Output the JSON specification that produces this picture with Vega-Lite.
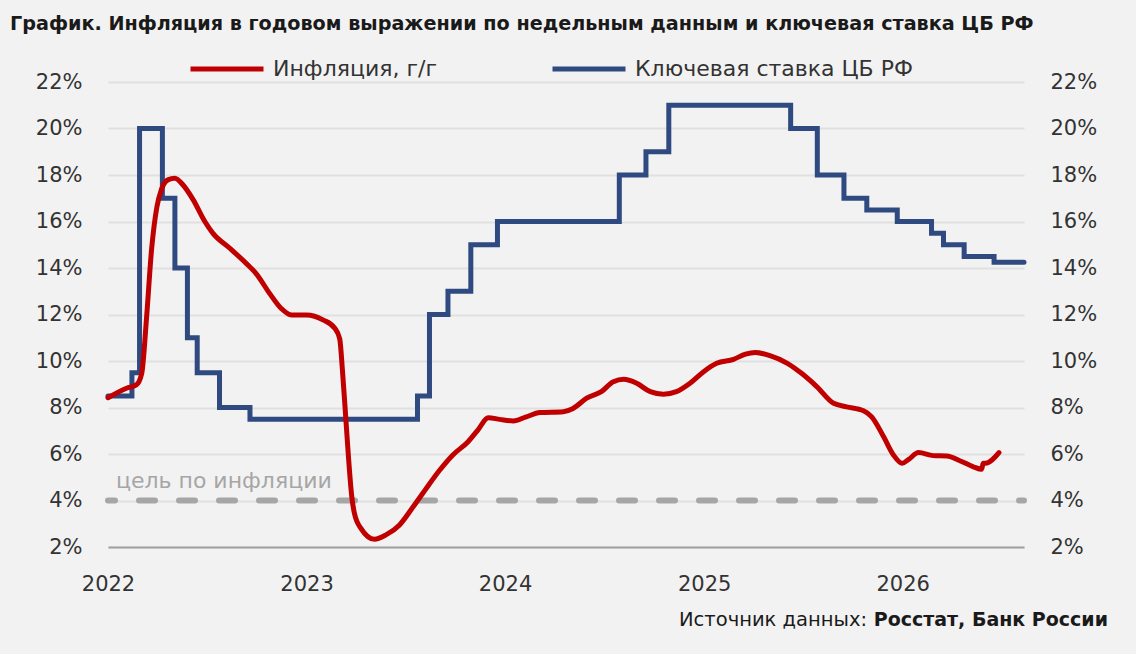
{
  "$schema": "https://vega.github.io/schema/vega-lite/v6.json",
  "background": "#f2f2f2",
  "autosize": "none",
  "width": 916,
  "height": 465,
  "padding": {"left": 108, "top": 82, "right": 112, "bottom": 107},
  "title": {
    "text": "График. Инфляция в годовом выражении по недельным данным и ключевая ставка ЦБ РФ",
    "anchor": "start",
    "frame": "group",
    "dx": -98,
    "fontSize": 19.2,
    "fontWeight": "bold",
    "color": "#1a1a1a",
    "offset": -4
  },
  "config": {
    "font": "DejaVu Sans",
    "view": {"stroke": null},
    "legend": {"padding": 0}
  },
  "datasets": {
    "rate": [
      {"date": "2022-01-01", "value": 8.5, "series": "Ключевая ставка ЦБ РФ"},
      {"date": "2022-02-14", "value": 9.5, "series": "Ключевая ставка ЦБ РФ"},
      {"date": "2022-02-28", "value": 20, "series": "Ключевая ставка ЦБ РФ"},
      {"date": "2022-04-11", "value": 17, "series": "Ключевая ставка ЦБ РФ"},
      {"date": "2022-05-04", "value": 14, "series": "Ключевая ставка ЦБ РФ"},
      {"date": "2022-05-27", "value": 11, "series": "Ключевая ставка ЦБ РФ"},
      {"date": "2022-06-14", "value": 9.5, "series": "Ключевая ставка ЦБ РФ"},
      {"date": "2022-07-25", "value": 8, "series": "Ключевая ставка ЦБ РФ"},
      {"date": "2022-09-19", "value": 7.5, "series": "Ключевая ставка ЦБ РФ"},
      {"date": "2023-07-24", "value": 8.5, "series": "Ключевая ставка ЦБ РФ"},
      {"date": "2023-08-15", "value": 12, "series": "Ключевая ставка ЦБ РФ"},
      {"date": "2023-09-18", "value": 13, "series": "Ключевая ставка ЦБ РФ"},
      {"date": "2023-10-30", "value": 15, "series": "Ключевая ставка ЦБ РФ"},
      {"date": "2023-12-18", "value": 16, "series": "Ключевая ставка ЦБ РФ"},
      {"date": "2024-07-29", "value": 18, "series": "Ключевая ставка ЦБ РФ"},
      {"date": "2024-09-16", "value": 19, "series": "Ключевая ставка ЦБ РФ"},
      {"date": "2024-10-28", "value": 21, "series": "Ключевая ставка ЦБ РФ"},
      {"date": "2025-06-09", "value": 20, "series": "Ключевая ставка ЦБ РФ"},
      {"date": "2025-07-28", "value": 18, "series": "Ключевая ставка ЦБ РФ"},
      {"date": "2025-09-15", "value": 17, "series": "Ключевая ставка ЦБ РФ"},
      {"date": "2025-10-27", "value": 16.5, "series": "Ключевая ставка ЦБ РФ"},
      {"date": "2025-12-22", "value": 16, "series": "Ключевая ставка ЦБ РФ"},
      {"date": "2026-02-23", "value": 15.5, "series": "Ключевая ставка ЦБ РФ"},
      {"date": "2026-03-17", "value": 15, "series": "Ключевая ставка ЦБ РФ"},
      {"date": "2026-04-24", "value": 14.5, "series": "Ключевая ставка ЦБ РФ"},
      {"date": "2026-06-18", "value": 14.25, "series": "Ключевая ставка ЦБ РФ"},
      {"date": "2026-08-12", "value": 14.25, "series": "Ключевая ставка ЦБ РФ"}
    ],
    "infl": [
      {"date": "2022-01-01", "value": 8.42, "series": "Инфляция, г/г"},
      {"date": "2022-02-04", "value": 8.83, "series": "Инфляция, г/г"},
      {"date": "2022-02-22", "value": 8.97, "series": "Инфляция, г/г"},
      {"date": "2022-03-04", "value": 9.47, "series": "Инфляция, г/г"},
      {"date": "2022-03-13", "value": 11.9, "series": "Инфляция, г/г"},
      {"date": "2022-03-22", "value": 14.77, "series": "Инфляция, г/г"},
      {"date": "2022-04-01", "value": 16.64, "series": "Инфляция, г/г"},
      {"date": "2022-04-09", "value": 17.36, "series": "Инфляция, г/г"},
      {"date": "2022-04-21", "value": 17.79, "series": "Инфляция, г/г"},
      {"date": "2022-05-04", "value": 17.86, "series": "Инфляция, г/г"},
      {"date": "2022-05-19", "value": 17.57, "series": "Инфляция, г/г"},
      {"date": "2022-06-07", "value": 16.92, "series": "Инфляция, г/г"},
      {"date": "2022-06-28", "value": 16.0, "series": "Инфляция, г/г"},
      {"date": "2022-07-13", "value": 15.49, "series": "Инфляция, г/г"},
      {"date": "2022-08-13", "value": 14.85, "series": "Инфляция, г/г"},
      {"date": "2022-09-12", "value": 14.2, "series": "Инфляция, г/г"},
      {"date": "2022-09-30", "value": 13.77, "series": "Инфляция, г/г"},
      {"date": "2022-10-25", "value": 12.91, "series": "Инфляция, г/г"},
      {"date": "2022-11-15", "value": 12.27, "series": "Инфляция, г/г"},
      {"date": "2022-12-04", "value": 11.98, "series": "Инфляция, г/г"},
      {"date": "2023-01-01", "value": 11.98, "series": "Инфляция, г/г"},
      {"date": "2023-02-01", "value": 11.76, "series": "Инфляция, г/г"},
      {"date": "2023-02-22", "value": 11.41, "series": "Инфляция, г/г"},
      {"date": "2023-03-03", "value": 10.95, "series": "Инфляция, г/г"},
      {"date": "2023-03-08", "value": 9.6, "series": "Инфляция, г/г"},
      {"date": "2023-03-14", "value": 7.6, "series": "Инфляция, г/г"},
      {"date": "2023-03-19", "value": 5.9, "series": "Инфляция, г/г"},
      {"date": "2023-03-25", "value": 4.2, "series": "Инфляция, г/г"},
      {"date": "2023-03-30", "value": 3.45, "series": "Инфляция, г/г"},
      {"date": "2023-04-11", "value": 2.8, "series": "Инфляция, г/г"},
      {"date": "2023-05-06", "value": 2.33, "series": "Инфляция, г/г"},
      {"date": "2023-05-27", "value": 2.52, "series": "Инфляция, г/г"},
      {"date": "2023-06-21", "value": 2.95, "series": "Инфляция, г/г"},
      {"date": "2023-07-16", "value": 3.73, "series": "Инфляция, г/г"},
      {"date": "2023-08-09", "value": 4.52, "series": "Инфляция, г/г"},
      {"date": "2023-09-03", "value": 5.31, "series": "Инфляция, г/г"},
      {"date": "2023-09-27", "value": 5.96, "series": "Инфляция, г/г"},
      {"date": "2023-10-25", "value": 6.53, "series": "Инфляция, г/г"},
      {"date": "2023-11-12", "value": 7.03, "series": "Инфляция, г/г"},
      {"date": "2023-12-01", "value": 7.56, "series": "Инфляция, г/г"},
      {"date": "2023-12-22", "value": 7.49, "series": "Инфляция, г/г"},
      {"date": "2024-01-16", "value": 7.42, "series": "Инфляция, г/г"},
      {"date": "2024-02-09", "value": 7.6, "series": "Инфляция, г/г"},
      {"date": "2024-03-05", "value": 7.78, "series": "Инфляция, г/г"},
      {"date": "2024-04-17", "value": 7.82, "series": "Инфляция, г/г"},
      {"date": "2024-05-05", "value": 7.96, "series": "Инфляция, г/г"},
      {"date": "2024-05-30", "value": 8.4, "series": "Инфляция, г/г"},
      {"date": "2024-06-26", "value": 8.68, "series": "Инфляция, г/г"},
      {"date": "2024-07-18", "value": 9.11, "series": "Инфляция, г/г"},
      {"date": "2024-08-06", "value": 9.21, "series": "Инфляция, г/г"},
      {"date": "2024-08-30", "value": 9.04, "series": "Инфляция, г/г"},
      {"date": "2024-09-24", "value": 8.68, "series": "Инфляция, г/г"},
      {"date": "2024-10-18", "value": 8.57, "series": "Инфляция, г/г"},
      {"date": "2024-11-11", "value": 8.68, "series": "Инфляция, г/г"},
      {"date": "2024-12-06", "value": 9.04, "series": "Инфляция, г/г"},
      {"date": "2024-12-31", "value": 9.54, "series": "Инфляция, г/г"},
      {"date": "2025-01-24", "value": 9.9, "series": "Инфляция, г/г"},
      {"date": "2025-02-24", "value": 10.07, "series": "Инфляция, г/г"},
      {"date": "2025-03-18", "value": 10.3, "series": "Инфляция, г/г"},
      {"date": "2025-04-05", "value": 10.37, "series": "Инфляция, г/г"},
      {"date": "2025-05-02", "value": 10.23, "series": "Инфляция, г/г"},
      {"date": "2025-06-03", "value": 9.9, "series": "Инфляция, г/г"},
      {"date": "2025-06-29", "value": 9.47, "series": "Инфляция, г/г"},
      {"date": "2025-07-27", "value": 8.9, "series": "Инфляция, г/г"},
      {"date": "2025-08-27", "value": 8.18, "series": "Инфляция, г/г"},
      {"date": "2025-09-20", "value": 8.03, "series": "Инфляция, г/г"},
      {"date": "2025-10-21", "value": 7.86, "series": "Инфляция, г/г"},
      {"date": "2025-11-05", "value": 7.6, "series": "Инфляция, г/г"},
      {"date": "2025-11-27", "value": 6.74, "series": "Инфляция, г/г"},
      {"date": "2025-12-15", "value": 5.96, "series": "Инфляция, г/г"},
      {"date": "2025-12-31", "value": 5.6, "series": "Инфляция, г/г"},
      {"date": "2026-01-12", "value": 5.77, "series": "Инфляция, г/г"},
      {"date": "2026-01-30", "value": 6.06, "series": "Инфляция, г/г"},
      {"date": "2026-02-26", "value": 5.93, "series": "Инфляция, г/г"},
      {"date": "2026-03-23", "value": 5.91, "series": "Инфляция, г/г"},
      {"date": "2026-04-17", "value": 5.7, "series": "Инфляция, г/г"},
      {"date": "2026-05-11", "value": 5.45, "series": "Инфляция, г/г"},
      {"date": "2026-05-26", "value": 5.34, "series": "Инфляция, г/г"},
      {"date": "2026-05-29", "value": 5.6, "series": "Инфляция, г/г"},
      {"date": "2026-06-02", "value": 5.6, "series": "Инфляция, г/г"},
      {"date": "2026-06-27", "value": 6.06, "series": "Инфляция, г/г"}
    ]
  },
  "resolve": {"axis": {"y": "independent"}},
  "layer": [
    {
      "data": {"name": "rate"},
      "mark": {"type": "line", "interpolate": "step-after", "strokeWidth": 5, "strokeCap": "round"},
      "encoding": {
        "x": {
          "field": "date", "type": "temporal",
          "scale": {"domain": ["2022-01-01", "2026-08-12"]},
          "axis": {
            "title": null, "format": "%Y", "tickCount": {"interval": "year", "step": 1},
            "labelFontSize": 21, "labelColor": "#333333", "labelPadding": 26,
            "labelFlush": false, "ticks": false, "tickSize": 0, "grid": false,
            "domainColor": "#a0a0a0", "domainWidth": 2
          }
        },
        "y": {
          "field": "value", "type": "quantitative",
          "scale": {"domain": [2, 22], "nice": false, "zero": false},
          "axis": {
            "orient": "left", "title": null, "values": [2, 4, 6, 8, 10, 12, 14, 16, 18, 20, 22],
            "labelExpr": "datum.value + '%'", "labelFontSize": 21, "labelColor": "#333333",
            "labelPadding": 26, "ticks": false, "tickSize": 0, "domain": false,
            "grid": true, "gridColor": "#e0e0e0", "gridWidth": 2
          }
        },
        "color": {
          "field": "series", "type": "nominal",
          "scale": {"domain": ["Инфляция, г/г", "Ключевая ставка ЦБ РФ"], "range": ["#c00000", "#2f4a80"]},
          "legend": {
            "title": null, "orient": "none", "direction": "horizontal",
            "legendX": 80, "legendY": -52, "symbolType": "stroke", "symbolSize": 5329,
            "symbolStrokeWidth": 5, "labelFontSize": 22, "labelColor": "#333333",
            "labelOffset": 7, "columnPadding": 105, "labelLimit": 500
          }
        }
      }
    },
    {
      "data": {"values": [{}]},
      "mark": {"type": "rule", "color": "#a6a6a6", "strokeWidth": 6, "strokeDash": [16, 24], "strokeDashOffset": 11, "strokeCap": "round"},
      "encoding": {"y": {"datum": 4, "axis": null}}
    },
    {
      "data": {"values": [{}]},
      "mark": {"type": "text", "text": "цель по инфляции", "align": "left", "baseline": "middle", "dx": 8, "dy": -20, "fontSize": 22, "color": "#a6a6a6"},
      "encoding": {"x": {"datum": {"year": 2022, "month": 1, "date": 1}, "type": "temporal"}, "y": {"datum": 4, "axis": null}}
    },
    {
      "data": {"name": "infl"},
      "mark": {"type": "line", "interpolate": "monotone", "strokeWidth": 5, "strokeCap": "round"},
      "encoding": {
        "x": {"field": "date", "type": "temporal"},
        "y": {
          "field": "value", "type": "quantitative",
          "axis": {
            "orient": "right", "title": null, "values": [2, 4, 6, 8, 10, 12, 14, 16, 18, 20, 22],
            "labelExpr": "datum.value + '%'", "labelFontSize": 21, "labelColor": "#333333",
            "labelPadding": 26, "ticks": false, "tickSize": 0, "domain": false, "grid": false
          }
        },
        "color": {"field": "series", "type": "nominal"}
      }
    },
    {
      "data": {"values": [{}]},
      "mark": {"type": "text", "text": "Росстат, Банк России", "align": "right", "baseline": "middle", "dx": 84, "dy": 73, "fontSize": 19, "fontWeight": "bold", "color": "#1a1a1a"},
      "encoding": {"x": {"datum": {"year": 2026, "month": 8, "date": 12}, "type": "temporal"}, "y": {"datum": 2, "axis": null}}
    },
    {
      "data": {"values": [{}]},
      "mark": {"type": "text", "text": "Источник данных:", "align": "right", "baseline": "middle", "dx": -157, "dy": 73, "fontSize": 19.5, "color": "#1a1a1a"},
      "encoding": {"x": {"datum": {"year": 2026, "month": 8, "date": 12}, "type": "temporal"}, "y": {"datum": 2, "axis": null}}
    }
  ]
}
